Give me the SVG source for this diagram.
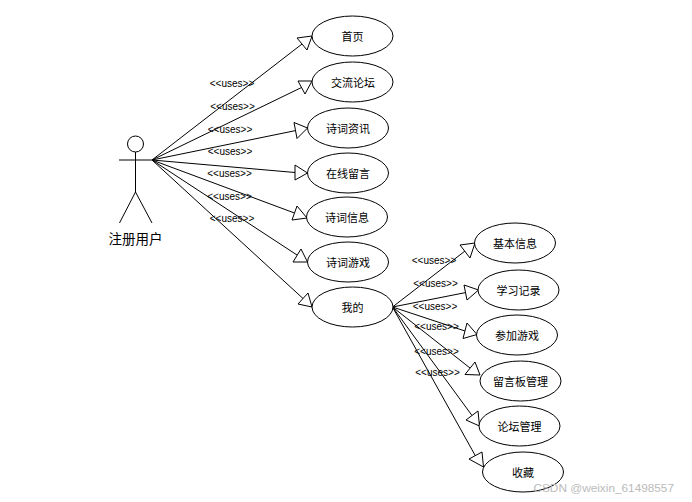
<svg xmlns="http://www.w3.org/2000/svg" width="692" height="502" viewBox="0 0 692 502">
<style>
.bg{fill:#fff}
.n ellipse{fill:#fff;stroke:#000;stroke-width:1}
.n text{font:11px "Noto Sans CJK SC","Liberation Sans",sans-serif;text-anchor:middle;dominant-baseline:central;fill:#000}
#connectors line,#actor line,#actor circle{stroke:#000;stroke-width:1;fill:none}
#connectors polygon{fill:#fff;stroke:#000;stroke-width:1}
.u{font:10px "Liberation Sans",Arial,sans-serif;text-anchor:middle;dominant-baseline:central;fill:#000}
</style>
<rect class="bg" width="692" height="502"/>
<g id="connectors">
<line x1="152" y1="160" x2="302" y2="44"/><polygon points="312,36 297,38 307,50"/>
<line x1="152" y1="160" x2="301.5" y2="87.5"/><polygon points="312,81 298,81 305,94"/>
<line x1="152" y1="160" x2="296" y2="130.5"/><polygon points="307.5,128 294,122.5 297,138.5"/>
<line x1="152" y1="160" x2="295" y2="172.5"/><polygon points="307.5,173 295,165 295,180"/>
<line x1="152" y1="160" x2="294.5" y2="213"/><polygon points="307,218 297,206 292,220"/>
<line x1="152" y1="160" x2="297" y2="255"/><polygon points="307.5,262 301,249 293,262"/>
<line x1="152" y1="160" x2="303" y2="298.5"/><polygon points="312,307 308,293 298,304"/>
<line x1="392.5" y1="307" x2="465" y2="251"/><polygon points="475,243 460,245 470,258"/>
<line x1="392.5" y1="307" x2="466" y2="292.5"/><polygon points="478.5,290 464,285 467,300"/>
<line x1="392.5" y1="307" x2="465" y2="331"/><polygon points="477,334.5 467,323 463,338.5"/>
<line x1="392.5" y1="307" x2="470" y2="368"/><polygon points="480,375 475,362 465,374.5"/>
<line x1="392.5" y1="307" x2="472" y2="415.5"/><polygon points="479.5,426 478,411 466,420"/>
<line x1="392.5" y1="307" x2="475.5" y2="456"/><polygon points="483.5,467 482,452 469,459"/>
<text class="u" x="232" y="83">&lt;&lt;uses&gt;&gt;</text>
<text class="u" x="232.5" y="106.5">&lt;&lt;uses&gt;&gt;</text>
<text class="u" x="230" y="129.5">&lt;&lt;uses&gt;&gt;</text>
<text class="u" x="230" y="151">&lt;&lt;uses&gt;&gt;</text>
<text class="u" x="229.5" y="173">&lt;&lt;uses&gt;&gt;</text>
<text class="u" x="229.5" y="196.5">&lt;&lt;uses&gt;&gt;</text>
<text class="u" x="232" y="218">&lt;&lt;uses&gt;&gt;</text>
<text class="u" x="434" y="260.5">&lt;&lt;uses&gt;&gt;</text>
<text class="u" x="435.5" y="283.5">&lt;&lt;uses&gt;&gt;</text>
<text class="u" x="435" y="306">&lt;&lt;uses&gt;&gt;</text>
<text class="u" x="436.5" y="326.5">&lt;&lt;uses&gt;&gt;</text>
<text class="u" x="436.5" y="351">&lt;&lt;uses&gt;&gt;</text>
<text class="u" x="437.5" y="372.5">&lt;&lt;uses&gt;&gt;</text>
</g>
<g id="actor">
<circle cx="135.5" cy="144" r="8"/>
<line x1="135.5" y1="152" x2="135.5" y2="192"/>
<line x1="119" y1="160" x2="152" y2="160"/>
<line x1="135.5" y1="192" x2="119.5" y2="223"/>
<line x1="135.5" y1="192" x2="152" y2="223"/>
<text x="135.5" y="238" style="font:13.5px 'Noto Sans CJK SC','Liberation Sans',sans-serif;text-anchor:middle;dominant-baseline:central;fill:#000">注册用户</text>
</g>
<g id="n1" class="n"><ellipse cx="352.5" cy="36" rx="40.5" ry="20"/><text x="352.5" y="36">首页</text></g>
<g id="n2" class="n"><ellipse cx="352.5" cy="82" rx="40.5" ry="20"/><text x="353" y="82">交流论坛</text></g>
<g id="n3" class="n"><ellipse cx="348" cy="128" rx="40.5" ry="20"/><text x="348" y="128">诗词资讯</text></g>
<g id="n4" class="n"><ellipse cx="348" cy="173" rx="40.5" ry="20"/><text x="348" y="173">在线留言</text></g>
<g id="n5" class="n"><ellipse cx="347" cy="217" rx="40.5" ry="20"/><text x="347" y="217">诗词信息</text></g>
<g id="n6" class="n"><ellipse cx="348" cy="262" rx="40.5" ry="20"/><text x="348" y="262">诗词游戏</text></g>
<g id="n7" class="n"><ellipse cx="352.5" cy="307" rx="40.5" ry="20"/><text x="352.5" y="307">我的</text></g>
<g id="n8" class="n"><ellipse cx="515" cy="243" rx="40.5" ry="20"/><text x="515" y="243">基本信息</text></g>
<g id="n9" class="n"><ellipse cx="518.5" cy="290" rx="40.5" ry="20"/><text x="518.5" y="290">学习记录</text></g>
<g id="n10" class="n"><ellipse cx="517" cy="335" rx="40.5" ry="20"/><text x="517" y="335">参加游戏</text></g>
<g id="n11" class="n"><ellipse cx="520.5" cy="381" rx="40.5" ry="20"/><text x="520.5" y="381">留言板管理</text></g>
<g id="n12" class="n"><ellipse cx="519.5" cy="426" rx="40.5" ry="20"/><text x="519.5" y="426">论坛管理</text></g>
<g id="n13" class="n"><ellipse cx="523" cy="472" rx="40.5" ry="20"/><text x="523" y="472">收藏</text></g>
<text x="674" y="488" style="font:11.8px 'Liberation Sans',Arial,sans-serif;text-anchor:end;dominant-baseline:central;fill:#bbb">CSDN @weixin_61498557</text>
</svg>
